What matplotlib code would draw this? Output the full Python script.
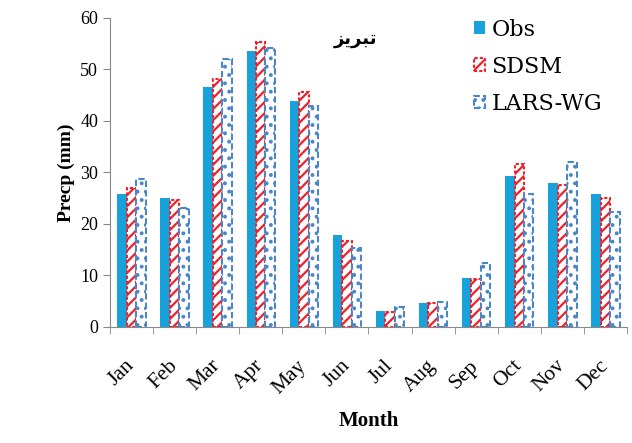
import matplotlib
matplotlib.use("Agg")
import matplotlib.pyplot as plt
import matplotlib.transforms as mtransforms
import numpy as np

months = ["Jan", "Feb", "Mar", "Apr", "May", "Jun", "Jul", "Aug", "Sep", "Oct", "Nov", "Dec"]
obs = [25.8, 25.1, 46.5, 53.5, 43.8, 17.9, 3.0, 4.6, 9.5, 29.2, 27.9, 25.8]
sdsm = [26.9, 24.7, 48.2, 55.3, 45.6, 16.6, 2.9, 4.6, 9.3, 31.6, 27.6, 25.0]
lars = [28.7, 23.0, 51.9, 54.2, 42.9, 15.3, 3.9, 4.8, 12.4, 25.8, 32.0, 22.3]
yticks = [0, 10, 20, 30, 40, 50, 60]
title_txt = "تبریز"

plt.rcParams['font.family'] = ['Liberation Serif', 'DejaVu Sans']
plt.rcParams['hatch.linewidth'] = 1.6

fig = plt.figure(figsize=(6.32, 4.43), dpi=100)
ax = fig.add_axes([0.174, 0.262, 0.818, 0.698])

x = np.arange(len(months))
w = 0.22
blue = "#17A2DC"
red = "#F0202A"
lblue = "#4A86C8"

b1 = ax.bar(x - w, obs, w, color=blue, label="Obs")
b2 = ax.bar(x, sdsm, w, facecolor="white", edgecolor=red, hatch="///",
            linestyle=(0, (1.5, 1)), linewidth=1.5, label="SDSM")
b3 = ax.bar(x + w, lars, w, facecolor="white", edgecolor=lblue, hatch="..",
            linestyle=(0, (3, 1.5)), linewidth=1.5, label="LARS-WG")

ax.set_xlim(-0.5, len(months) - 0.5)
ax.set_ylim(0, 60)
ax.set_yticks(yticks)
ax.set_yticklabels([str(t) for t in yticks], fontsize=13)
ax.set_xticks(x)
ax.set_xticklabels(months, rotation=45, fontsize=15.5, ha="right", va="center",
                   rotation_mode="anchor")
offset = mtransforms.ScaledTranslation(6 / 72, 0, fig.dpi_scale_trans)
for lab in ax.get_xticklabels():
    lab.set_transform(lab.get_transform() + offset)
ax.tick_params(axis="x", length=0, pad=26)
ax.set_xticks(np.arange(-0.5, len(months), 1), minor=True)
ax.tick_params(axis="x", which="minor", length=5, direction="out", color="#888888")
ax.tick_params(axis="y", length=5, direction="out", color="#888888")
for s in ["top", "right"]:
    ax.spines[s].set_visible(False)
for s in ["left", "bottom"]:
    ax.spines[s].set_color("#888888")

ax.set_ylabel("Precp (mm)", fontsize=14, fontweight="bold")
ax.set_xlabel("Month", fontsize=15, fontweight="bold", labelpad=10)

# shaped presentation forms of the title for left-to-right rendering
shaped = "\uFEB0\uFBFE\uFEAE\uFE92\uFE97"
ax.text(5.2, 55.8, shaped, fontsize=13, fontweight="bold", ha="center", va="center",
        family=["DejaVu Sans"])

leg = ax.legend(loc="upper left", bbox_to_anchor=(0.665, 1.062), frameon=False,
                prop={"family": "DejaVu Serif", "size": 16},
                handlelength=0.5, handleheight=0.5, handletextpad=0.3, labelspacing=0.68)

fig.savefig("out.png", dpi=100)
